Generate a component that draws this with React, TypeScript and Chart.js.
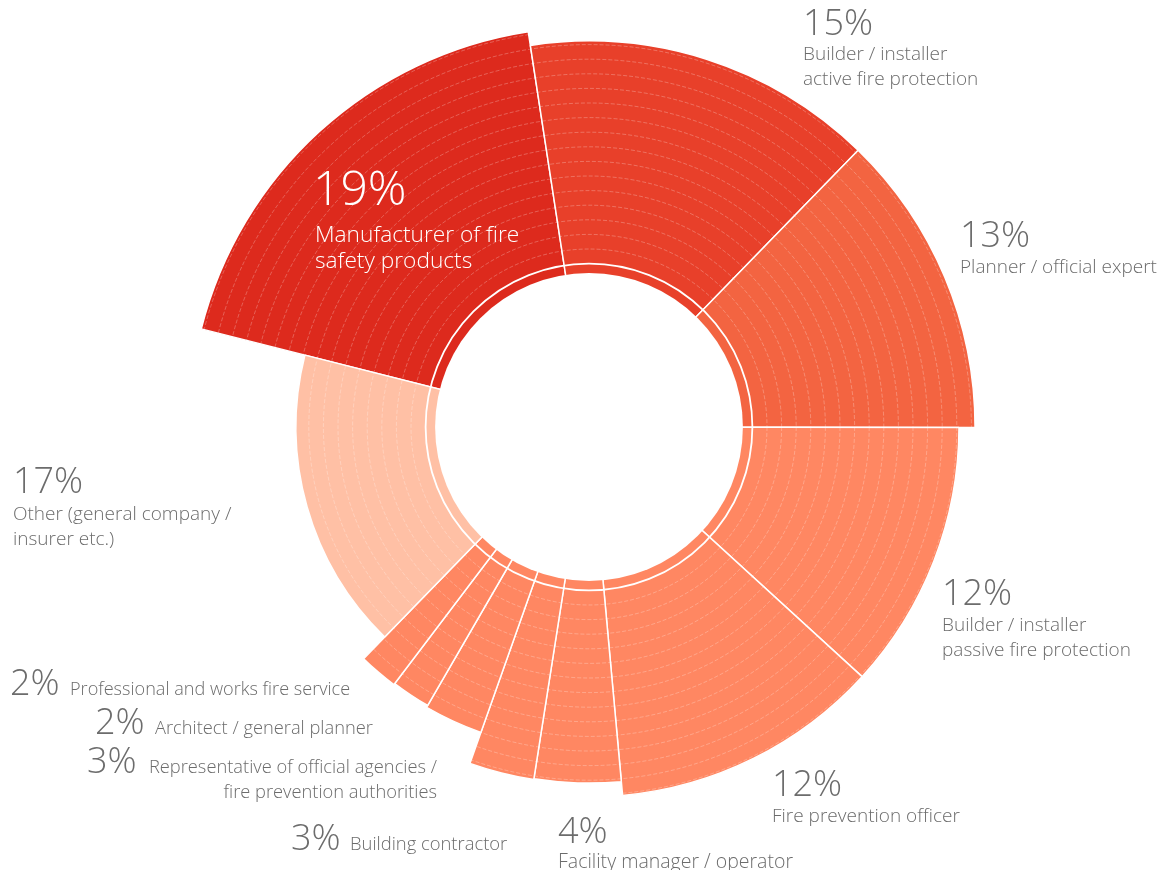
import React, { useEffect, useRef } from 'react';
import { Chart, registerables } from 'chart.js';

Chart.register(...registerables);

// ---------- data ----------
const categories = [
  'Manufacturer of fire safety products',
  'Builder / installer active fire protection',
  'Planner / official expert',
  'Builder / installer passive fire protection',
  'Fire prevention officer',
  'Facility manager / operator',
  'Building contractor',
  'Representative of official agencies / fire prevention authorities',
  'Architect / general planner',
  'Professional and works fire service',
  'Other (general company / insurer etc.)',
];
const shares = [19, 15, 13, 12, 12, 4, 3, 3, 2, 2, 17];
// outer extent of every slice, in ring units of the radial scale
const radialLevels = [16.2, 15.25, 15.25, 14.15, 14.15, 13.2, 13.25, 11.0, 10.85, 10.95, 8.88];
const labelLines = [
  ['Manufacturer of fire', 'safety products'],
  ['Builder / installer', 'active fire protection'],
  ['Planner / official expert'],
  ['Builder / installer', 'passive fire protection'],
  ['Fire prevention officer'],
  ['Facility manager / operator'],
  ['Building contractor'],
  ['Representative of official agencies /', 'fire prevention authorities'],
  ['Architect / general planner'],
  ['Professional and works fire service'],
  ['Other (general company /', 'insurer etc.)'],
];

// ---------- styles / layout ----------
const sliceColors = [
  '#dd2a1d', '#e8402a', '#f36441', '#ff8762', '#ff8762', '#ff8762',
  '#ff8762', '#ff8762', '#ff8762', '#ff8762', '#ffc0a5',
];
const SCALE_MIN = -11.19;
const SCALE_MAX = 16.89;
const HOLE_LEVEL = -0.65;
const START_ANGLE = -75.8;
const PAGE_OFFSET = 8;
const TEXT_GRAY = '#6c6c6c';
const FONT = "'Open Sans', sans-serif";

type LabelPos = {
  px: number; py: number; pSize: number;
  lx: number; ly: number; lh: number; lSize: number;
  align: 'left' | 'right'; color: string;
};
const labelLayout: LabelPos[] = [
  { px: 313, py: 205, pSize: 48, lx: 315, ly: 242, lh: 26, lSize: 22.7, align: 'left', color: '#ffffff' },
  { px: 803, py: 35, pSize: 36, lx: 803, ly: 60, lh: 25, lSize: 19, align: 'left', color: TEXT_GRAY },
  { px: 960, py: 247, pSize: 36, lx: 960, ly: 273, lh: 25, lSize: 19, align: 'left', color: TEXT_GRAY },
  { px: 942, py: 605, pSize: 36, lx: 942, ly: 631, lh: 25, lSize: 19, align: 'left', color: TEXT_GRAY },
  { px: 772, py: 796, pSize: 36, lx: 772, ly: 822, lh: 25, lSize: 19, align: 'left', color: TEXT_GRAY },
  { px: 558, py: 843, pSize: 36, lx: 558, ly: 868, lh: 25, lSize: 19.5, align: 'left', color: TEXT_GRAY },
  { px: 291, py: 850, pSize: 36, lx: 350, ly: 850, lh: 25, lSize: 18.4, align: 'left', color: TEXT_GRAY },
  { px: 87, py: 773, pSize: 36, lx: 437, ly: 773, lh: 25, lSize: 18.3, align: 'right', color: TEXT_GRAY },
  { px: 95, py: 734, pSize: 36, lx: 155, ly: 734, lh: 25, lSize: 18.3, align: 'left', color: TEXT_GRAY },
  { px: 10, py: 695, pSize: 36, lx: 70, ly: 695, lh: 25, lSize: 18.1, align: 'left', color: TEXT_GRAY },
  { px: 13, py: 493, pSize: 36, lx: 13, ly: 520, lh: 25, lSize: 19, align: 'left', color: TEXT_GRAY },
];

const totalShare = shares.reduce((a, b) => a + b, 0);

const holePlugin = {
  id: 'holeAndLabels',
  afterDraw(chart: any) {
    const s = chart.scales.r;
    const ctx = chart.ctx as CanvasRenderingContext2D;
    const rHole = s.getDistanceFromCenterForValue(HOLE_LEVEL);
    ctx.save();
    ctx.fillStyle = '#ffffff';
    ctx.beginPath();
    ctx.arc(s.xCenter, s.yCenter, rHole, 0, Math.PI * 2);
    ctx.fill();

    ctx.textBaseline = 'alphabetic';
    shares.forEach((v, i) => {
      const L = labelLayout[i];
      ctx.fillStyle = L.color;
      ctx.textAlign = 'left';
      ctx.font = `300 ${L.pSize}px ${FONT}`;
      ctx.fillText(`${v}%`, L.px - PAGE_OFFSET, L.py - PAGE_OFFSET);
      ctx.font = `300 ${L.lSize}px ${FONT}`;
      ctx.textAlign = L.align;
      labelLines[i].forEach((line, j) => {
        ctx.fillText(line, L.lx - PAGE_OFFSET, L.ly - PAGE_OFFSET + j * L.lh);
      });
    });
    ctx.restore();
  },
};

const tickVal = (c: any) => (c && c.tick ? c.tick.value : -1);

export default function App() {
  const ref = useRef<HTMLCanvasElement | null>(null);
  useEffect(() => {
    if (!ref.current) return;
    const chart = new Chart(ref.current, {
      type: 'polarArea',
      data: {
        labels: categories,
        datasets: [
          {
            data: radialLevels,
            backgroundColor: sliceColors,
            borderColor: '#ffffff',
            borderWidth: 1.5,
            angle: (c: any) => (shares[c.dataIndex] * 360) / totalShare,
          } as any,
        ],
      },
      options: {
        responsive: false,
        animation: false,
        events: [],
        layout: { padding: { left: 171, top: 9, right: 163, bottom: 33 } },
        plugins: { legend: { display: false }, tooltip: { enabled: false } },
        scales: {
          r: {
            min: SCALE_MIN,
            max: SCALE_MAX,
            startAngle: START_ANGLE,
            angleLines: { display: false },
            pointLabels: { display: false },
            ticks: { display: false, stepSize: 1 },
            grid: {
              z: 1,
              circular: true,
              color: (c: any) => {
                const v = tickVal(c);
                if (Math.abs(v) < 1e-6) return '#ffffff';
                if (v > 0.5 && v < SCALE_MAX - 0.01) return 'rgba(255,255,255,0.34)';
                return 'rgba(0,0,0,0)';
              },
              lineWidth: (c: any) => (Math.abs(tickVal(c)) < 1e-6 ? 1.8 : 0.75),
            },
            border: {
              dash: (c: any) => (Math.abs(tickVal(c)) < 1e-6 ? [] : [4, 2]),
            },
          } as any,
        },
      } as any,
      plugins: [holePlugin],
    });
    return () => chart.destroy();
  }, []);
  return (
    <div style={{ width: 1154, height: 862 }}>
      <canvas ref={ref} width={1154} height={862} style={{ display: 'block' }} />
    </div>
  );
}
